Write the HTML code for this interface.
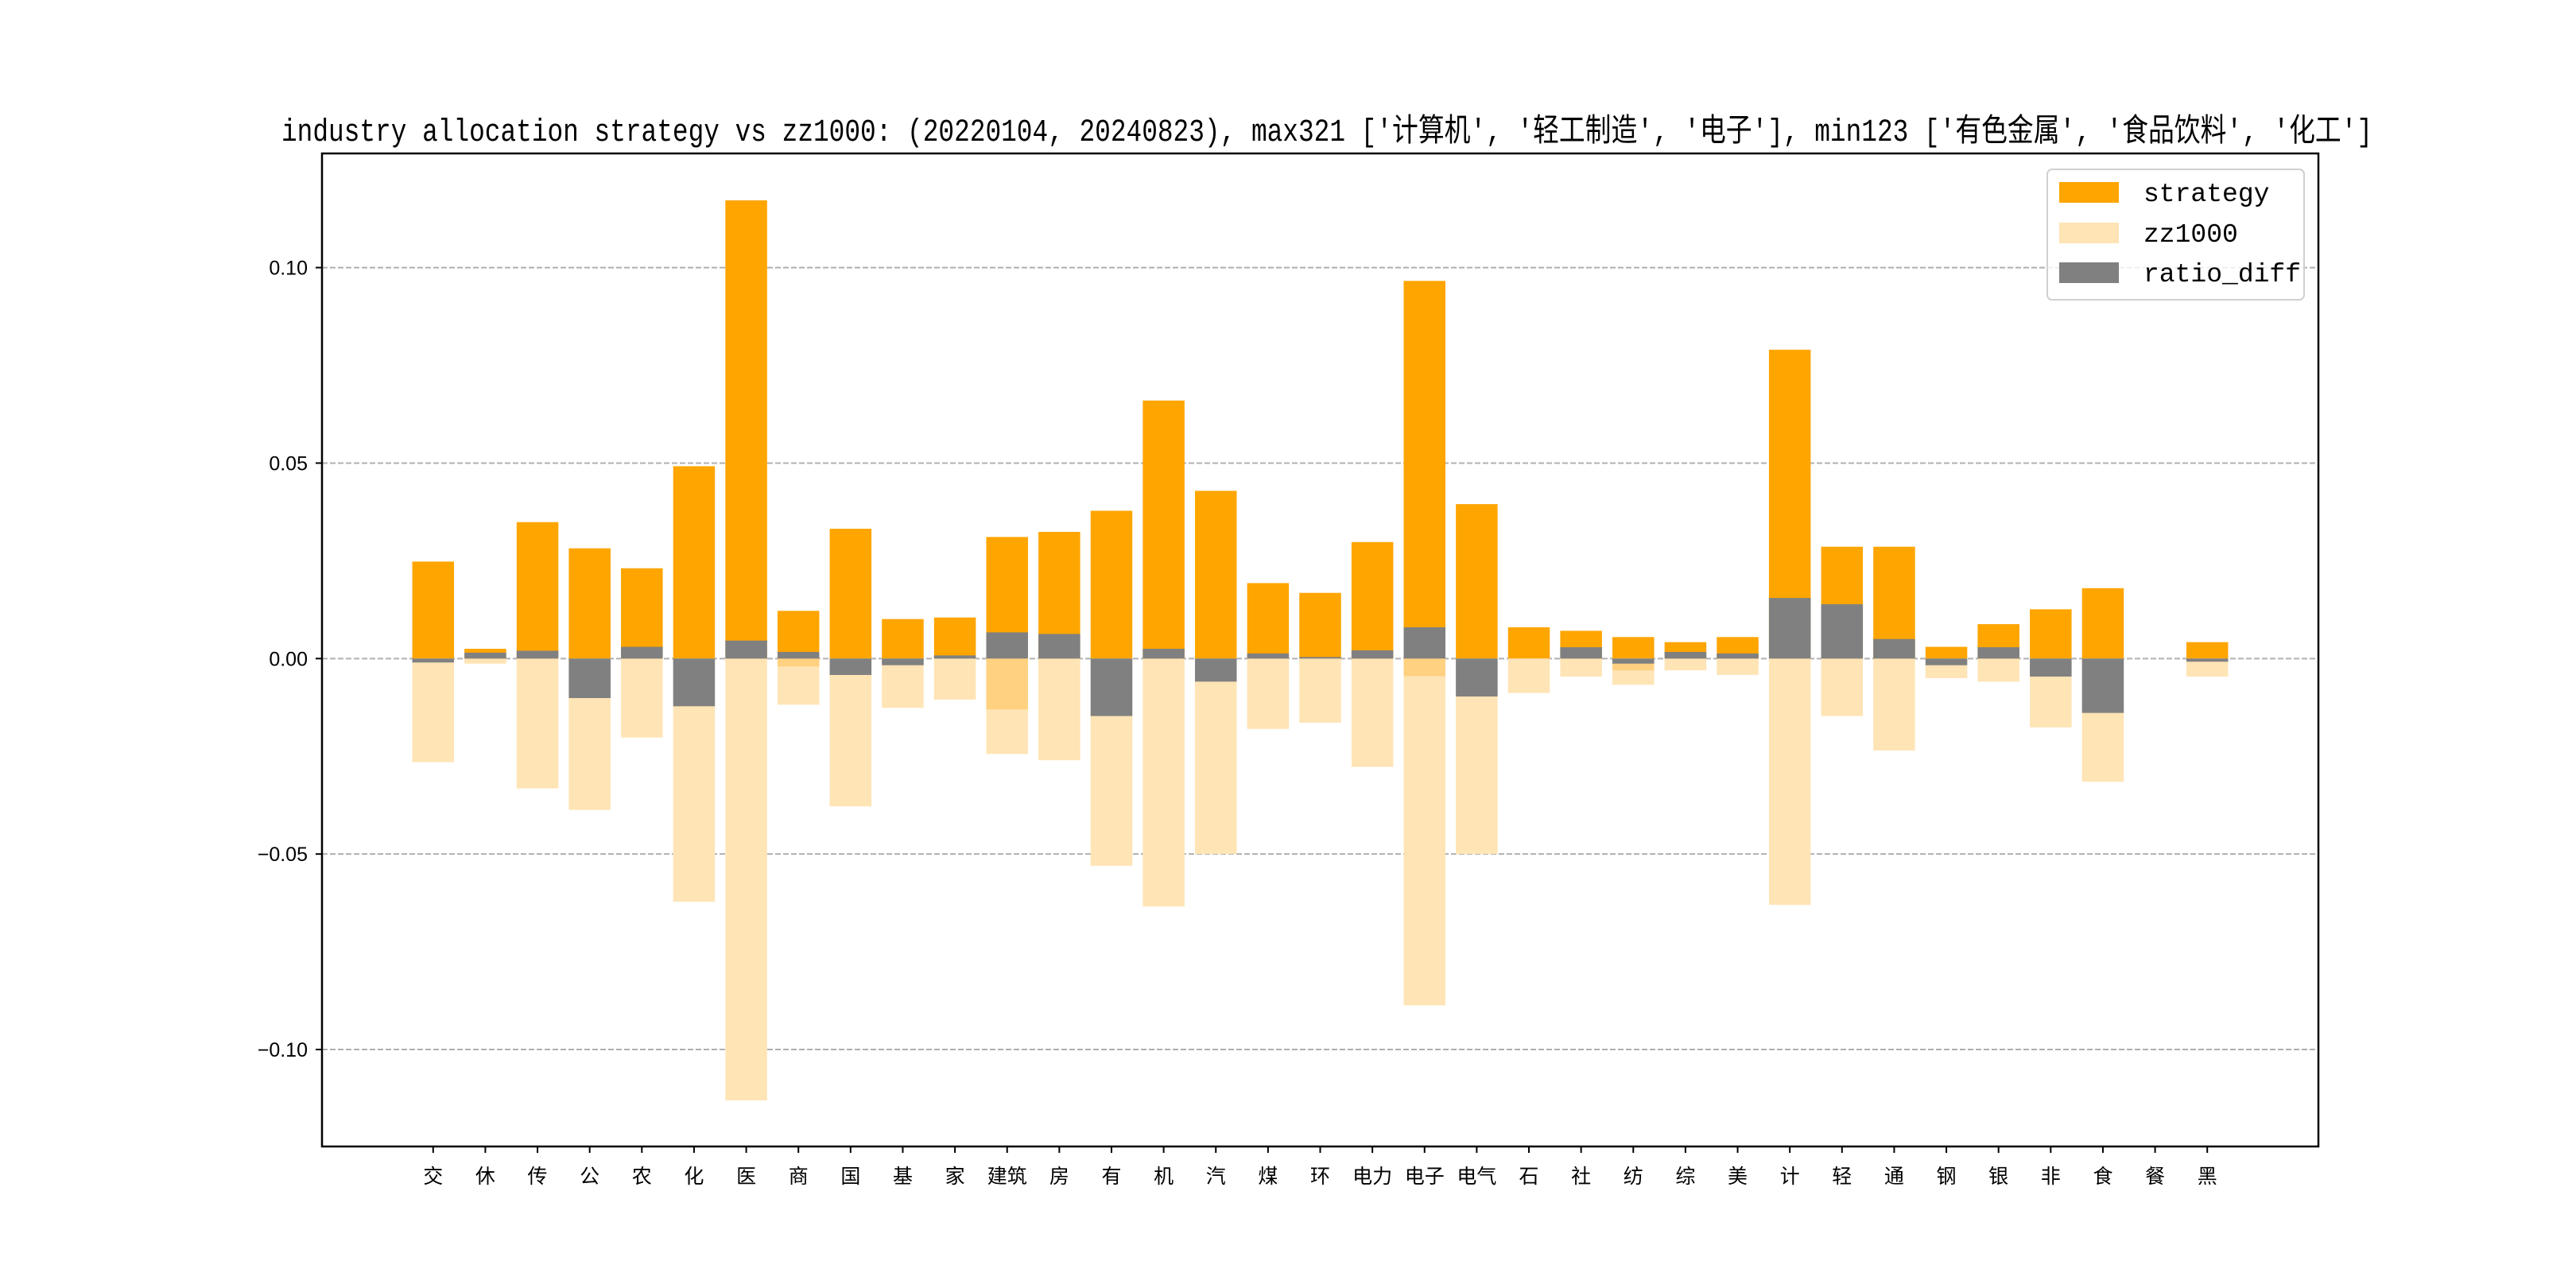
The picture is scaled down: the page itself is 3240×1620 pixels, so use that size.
<!DOCTYPE html>
<html><head><meta charset="utf-8"><style>html,body{margin:0;padding:0;background:#fff}svg{display:block}</style></head>
<body>
<svg id="chart" width="3240" height="1620" viewBox="0 0 3240 1620" xmlns="http://www.w3.org/2000/svg" font-family="'Liberation Sans','Noto Sans CJK SC',sans-serif">
<rect width="3240" height="1620" fill="#fff"/>
<text x="1669" y="177" font-size="40" text-anchor="middle" textLength="2630" lengthAdjust="spacingAndGlyphs" font-family="'Liberation Mono','Noto Sans CJK SC',monospace">industry allocation strategy vs zz1000: (20220104, 20240823), max321 ['计算机', '轻工制造', '电子'], min123 ['有色金属', '食品饮料', '化工']</text>
<g id="grid"></g>
<g id="bars"></g>
<g id="axes"></g>
<g>
<rect x="2575" y="213" width="323" height="164" rx="6" fill="#fff" fill-opacity="0.8" stroke="#d0d0d0" stroke-width="2"/>
<rect x="2590" y="229" width="75" height="26" fill="#FFA500"/>
<text x="2696" y="253" font-size="33" font-family="'Liberation Mono',monospace">strategy</text>
<rect x="2590" y="280" width="75" height="26" fill="#FFE4B5"/>
<text x="2696" y="304" font-size="33" font-family="'Liberation Mono',monospace">zz1000</text>
<rect x="2590" y="330" width="75" height="26" fill="#808080"/>
<text x="2696" y="354" font-size="33" font-family="'Liberation Mono',monospace">ratio_diff</text>
</g>
</svg>
<script>
const categories = ['交','休','传','公','农','化','医','商','国','基','家','建筑','房','有','机','汽','煤','环','电力','电子','电气','石','社','纺','综','美','计','轻','通','钢','银','非','食','餐','黑'];
const strategy = [0.0248,0.0025,0.0349,0.0282,0.0231,0.0492,0.1172,0.0122,0.0332,0.0101,0.0105,0.0311,0.0324,0.0378,0.0660,0.0429,0.0193,0.0168,0.0298,0.0966,0.0395,0.0080,0.0071,0.0055,0.0042,0.0055,0.0790,0.0286,0.0286,0.0030,0.0088,0.0126,0.0180,0,0.0042];
const zz1000 = [-0.0265,-0.0013,-0.0332,-0.0387,-0.0202,-0.0622,-0.1130,-0.0118,-0.0378,-0.0126,-0.0105,-0.0244,-0.0260,-0.0530,-0.0634,-0.0500,-0.0180,-0.0164,-0.0277,-0.0887,-0.0500,-0.0088,-0.0046,-0.0067,-0.0030,-0.0042,-0.0630,-0.0147,-0.0235,-0.0050,-0.0059,-0.0176,-0.0315,0,-0.0046];
const overlap = [0,0,0,0,0,0,0,-0.0020,0,0,0,-0.0130,0,0,0,0,0,0,0,-0.0045,0,0,0,-0.0030,0,0,0,0,0,0,0,0,0,0,0];
const ratioDiff = [-0.0010,0.0015,0.0020,-0.0101,0.0030,-0.0122,0.0046,0.0017,-0.0042,-0.0017,0.0008,0.0067,0.0063,-0.0147,0.0025,-0.0059,0.0013,0.0004,0.0021,0.0080,-0.0097,0,0.0029,-0.0013,0.0017,0.0013,0.0155,0.0139,0.0050,-0.0017,0.0029,-0.0046,-0.0139,0,-0.0008];
const yTicks = [-0.10,-0.05,0.00,0.05,0.10];
const yTickLabels = ['−0.10','−0.05','0.00','0.05','0.10'];

const NS='http://www.w3.org/2000/svg';
const L=405,R=2916,T=193,B=1442;
const xMin=-2.13,xMax=categories.length-1+2.13;
const yMin=-0.1248,yMax=0.1292;
const x=v=>L+(v-xMin)/(xMax-xMin)*(R-L);
const y=v=>B-(v-yMin)/(yMax-yMin)*(B-T);
const bw=0.8*(x(1)-x(0));
function mk(tag,attrs,parent){const e=document.createElementNS(NS,tag);for(const k in attrs)e.setAttribute(k,attrs[k]);parent.appendChild(e);return e;}
const grid=document.getElementById('grid'),bars=document.getElementById('bars'),axes=document.getElementById('axes');
yTicks.forEach((t,i)=>{
  const g=mk('line',{x1:L,x2:R,y1:y(t),y2:y(t),stroke:'#b0b0b0','stroke-width':2,'stroke-dasharray':'7,3'},grid);
  
  
  const tk=mk('line',{x1:L-8,x2:L,y1:y(t),y2:y(t),stroke:'#000','stroke-width':2},axes);
  
  
  const tx=mk('text',{x:L-18,y:y(t)+9,'font-size':25,'text-anchor':'end'},axes);
  tx.textContent=yTickLabels[i];
  
  
});
function bar(i,v0,v1,fill,name){
  const top=Math.min(y(v0),y(v1)),h=Math.abs(y(v0)-y(v1));
  const r=mk('rect',{x:x(i)-bw/2,y:top,width:bw,height:h,fill:fill},bars);
  
  
}
categories.forEach((c,i)=>{
  bar(i,0,strategy[i],'#FFA500','strategy-bar');
  bar(i,0,zz1000[i],'#FFE4B5','zz1000-bar');
  if(overlap[i]) bar(i,0,overlap[i],'#FFD180','overlap-bar');
  bar(i,0,ratioDiff[i],'#808080','ratio-diff-bar');
  const tk=mk('line',{x1:x(i),x2:x(i),y1:B,y2:B+8,stroke:'#000','stroke-width':2},axes);
  
  
  const tx=mk('text',{x:x(i),y:B+46,'font-size':25,'text-anchor':'middle'},axes);
  tx.textContent=c;
  
  
});
const frame=mk('rect',{x:L,y:T,width:R-L,height:B-T,fill:'none',stroke:'#000','stroke-width':2.5},axes);


</script>
</body></html>
